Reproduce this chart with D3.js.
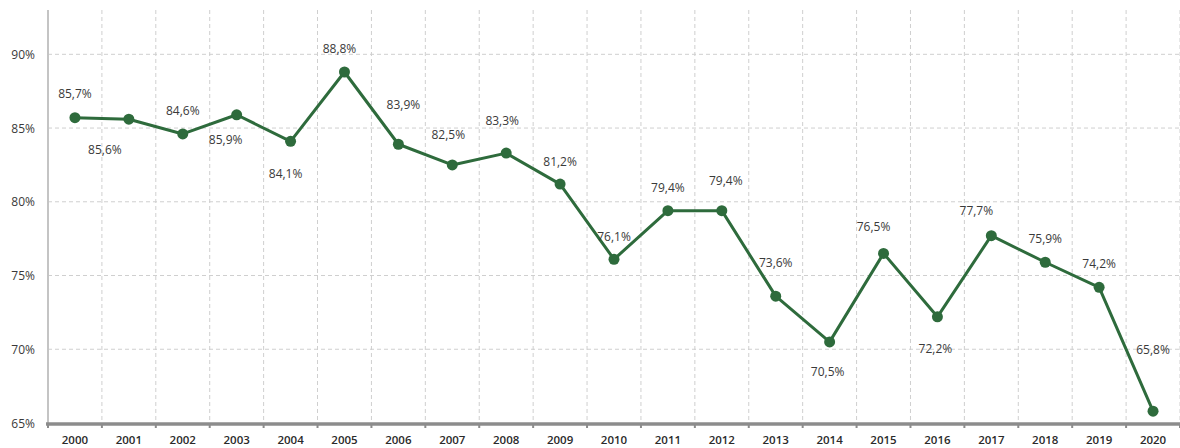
<!DOCTYPE html>
<html>
<head>
<meta charset="utf-8">
<script src="https://cdn.jsdelivr.net/npm/d3@7"></script>
<style>
  html, body { margin: 0; padding: 0; background: #ffffff; }
  svg { display: block; }
</style>
</head>
<body>
<svg id="chart" width="1180" height="448"></svg>
<script>
// ---- data ----
const years = ["2000","2001","2002","2003","2004","2005","2006","2007","2008","2009","2010",
               "2011","2012","2013","2014","2015","2016","2017","2018","2019","2020"];
const values = [85.7, 85.6, 84.6, 85.9, 84.1, 88.8, 83.9, 82.5, 83.3, 81.2, 76.1,
                79.4, 79.4, 73.6, 70.5, 76.5, 72.2, 77.7, 75.9, 74.2, 65.8];
const yTicks = [65, 70, 75, 80, 85, 90];

// label nudges (layout only, pixels relative to each point)
const labelDx = [0,-24,0,-11,-5,-5,5,-4,-4,0,0,0,4,0,-2,-10,-2,-15,0,0,0];
const labelDy = [-24,30,-23,25,32,-23,-40,-30,-33,-23,-23,-23,-30,-34,30,-27,32,-25,-24,-24,-62];

// ---- layout ----
const svg = d3.select("#chart");
const plotLeft = 48, plotRight = 1180, plotTop = 10, plotBottom = 423;
const font = "'Open Sans', 'DejaVu Sans', sans-serif";

const x = d3.scaleBand().domain(years).range([plotLeft, plotRight]).padding(0);
const y = d3.scaleLinear().domain([65, 90]).range([plotBottom, 54.3]);
const fmt = v => d3.format(".1f")(v).replace(".", ",") + "%";

// horizontal grid
svg.append("g").selectAll("line")
  .data(yTicks.filter(t => t > 65))
  .join("line")
  .attr("x1", plotLeft).attr("x2", plotRight)
  .attr("y1", d => y(d)).attr("y2", d => y(d))
  .attr("stroke", "#cfcfcf").attr("stroke-width", 1)
  .attr("stroke-dasharray", "4,3");

// vertical grid at band boundaries
const bounds = years.map(d => x(d) + x.bandwidth());
svg.append("g").selectAll("line")
  .data(bounds)
  .join("line")
  .attr("x1", d => d).attr("x2", d => d)
  .attr("y1", plotTop).attr("y2", plotBottom)
  .attr("stroke", "#cfcfcf").attr("stroke-width", 1)
  .attr("stroke-dasharray", "4,3");

// y axis line
svg.append("line")
  .attr("x1", plotLeft).attr("x2", plotLeft)
  .attr("y1", plotTop).attr("y2", plotBottom)
  .attr("stroke", "#c4c4c4").attr("stroke-width", 2);

// y tick labels
svg.append("g").selectAll("text")
  .data(yTicks)
  .join("text")
  .attr("x", 35).attr("y", d => y(d))
  .attr("text-anchor", "end").attr("dominant-baseline", "central")
  .attr("font-family", font).attr("font-size", 12)
  .attr("fill", "#3a3a3a")
  .text(d => d + "%");

// x axis ticks
svg.append("g").selectAll("line")
  .data([plotLeft].concat(bounds))
  .join("line")
  .attr("x1", d => d).attr("x2", d => d)
  .attr("y1", plotBottom).attr("y2", plotBottom + 5)
  .attr("stroke", "#8c8c8c").attr("stroke-width", 2);

// x axis line
svg.append("line")
  .attr("x1", plotLeft - 2).attr("x2", plotRight)
  .attr("y1", plotBottom + 1).attr("y2", plotBottom + 1)
  .attr("stroke", "#8c8c8c").attr("stroke-width", 3.5);

// x labels
svg.append("g").selectAll("text")
  .data(years)
  .join("text")
  .attr("x", d => x(d) + x.bandwidth() / 2).attr("y", 439.5)
  .attr("text-anchor", "middle").attr("dominant-baseline", "central")
  .attr("font-family", font).attr("font-size", 11.5).attr("font-weight", 600)
  .attr("fill", "#2a2a2a")
  .text(d => d);

// line
const pts = years.map((yr, i) => ({yr, v: values[i], i}));
const cx = d => x(d.yr) + x.bandwidth() / 2;
svg.append("path")
  .datum(pts)
  .attr("fill", "none")
  .attr("stroke", "#2e6b3c")
  .attr("stroke-width", 3)
  .attr("stroke-linejoin", "round")
  .attr("d", d3.line().x(cx).y(d => y(d.v)));

// points
svg.append("g").selectAll("circle")
  .data(pts)
  .join("circle")
  .attr("cx", cx).attr("cy", d => y(d.v))
  .attr("r", 5.5)
  .attr("fill", "#2e6b3c");

// data labels
svg.append("g").selectAll("text")
  .data(pts)
  .join("text")
  .attr("x", d => cx(d) + labelDx[d.i])
  .attr("y", d => y(d.v) + labelDy[d.i])
  .attr("text-anchor", "middle").attr("dominant-baseline", "central")
  .attr("font-family", font).attr("font-size", 12)
  .attr("fill", "#3a3a3a")
  .text(d => fmt(d.v));
</script>
</body>
</html>
